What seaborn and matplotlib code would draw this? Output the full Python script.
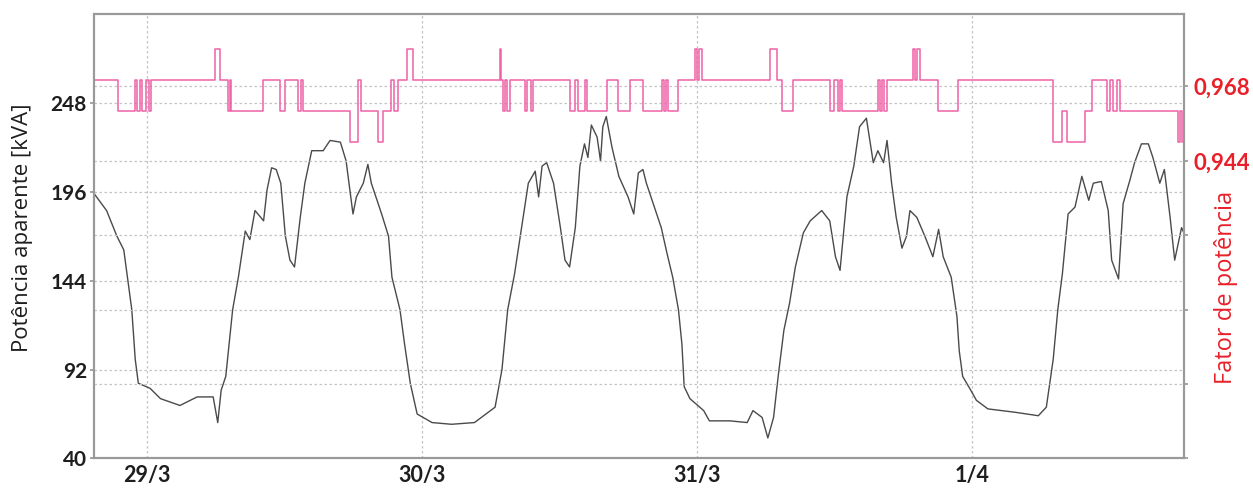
import matplotlib
matplotlib.use("Agg")
import matplotlib.pyplot as plt
import matplotlib.dates as mdates
import matplotlib.ticker as mticker
import pandas as pd
import seaborn as sns

# hours after 29/3 00:00 and apparent power [kVA]
kva_hours = [-4.6, -3.5, -2.6, -2.0, -1.6, -1.3, -1.0, -0.73, 0.3, 1.2, 2.9, 4.4, 5.8, 6.2, 6.5,
             6.9, 7.5, 8.0, 8.6, 9.0, 9.45, 10.2, 10.5, 10.9, 11.3, 11.7, 12.1, 12.5, 12.9, 13.4,
             13.8, 14.4, 15.4, 16.0, 16.9, 17.4, 18.0, 18.3, 18.9, 19.3, 19.6, 20.5, 21.1, 21.4,
             22.1, 22.5, 23.0, 23.6, 24.9, 26.6, 28.6, 29.2, 30.4, 31.0, 31.5, 32.1, 32.6, 33.3,
             33.9, 34.2, 34.5, 34.9, 35.5, 36.1, 36.5, 36.9, 37.4, 37.8, 38.2, 38.5, 38.8, 39.3,
             39.6, 39.8, 40.1, 40.6, 41.2, 42.0, 42.5, 42.9, 43.3, 43.6, 44.2, 44.9, 45.4, 45.9,
             46.4, 46.7, 46.9, 47.4, 48.6, 49.1, 50.9, 52.4, 52.9, 53.7, 54.2, 54.7, 55.1, 55.6,
             56.1, 56.6, 57.3, 57.9, 58.9, 59.6, 60.1, 60.5, 61.1, 61.7, 62.2, 62.8, 63.4, 63.8,
             64.3, 64.6, 65.0, 65.4, 65.9, 66.3, 66.6, 67.2, 67.9, 68.6, 69.1, 69.5, 70.2, 70.7,
             70.9, 71.2, 71.9, 72.4, 73.4, 75.8, 77.8, 78.5, 79.1, 79.5, 79.9, 80.4, 81.0, 81.6,
             82.2, 82.6, 83.3, 83.9, 84.2, 84.8, 85.2, 85.8, 86.2, 86.8, 87.4, 87.8, 88.4, 88.8,
             89.3, 89.7, 90.3, 90.5]
kva_values = [195, 185, 170, 162, 142, 127, 98, 84, 81, 75, 71, 76, 76, 61, 80,
              88, 127, 146, 173, 168, 185, 179, 197, 210, 209, 201, 170, 156, 152, 181,
              201, 220, 220, 226, 225, 214, 183, 193, 201, 212, 201, 183, 170, 146,
              127, 107, 84, 66, 61, 60, 61, 64, 70, 92, 127, 148, 170, 201,
              208, 193, 211, 213, 201, 175, 156, 152, 175, 211, 224, 216, 235, 228,
              214, 234, 240, 222, 205, 193, 183, 207, 209, 201, 189, 175, 160, 146,
              127, 107, 82, 75, 68, 62, 62, 61, 68, 64, 52, 64, 88, 115,
              131, 152, 172, 179, 185, 179, 158, 150, 193, 211, 234, 239, 213, 220,
              213, 226, 201, 181, 163, 170, 185, 181, 170, 158, 174, 158, 146, 123,
              103, 88, 80, 74, 69, 67, 65, 70, 98, 127, 148, 183, 187, 205,
              191, 201, 202, 185, 156, 145, 189, 203, 213, 224, 224, 216, 201, 209,
              181, 156, 175, 172]

# power factor: hour where each level starts (step series)
fp_hours = [-4.60, -2.48, -1.02, -0.85, -0.58, -0.41, -0.06, 0.20, 0.38, 5.96, 6.40, 7.12,
            7.27, 7.36, 10.17, 11.63, 12.07, 13.23, 13.46, 13.64, 17.74, 18.44, 18.70, 20.18,
            20.62, 21.32, 21.58, 21.93, 22.71, 23.24, 30.83, 30.92, 31.09, 31.27, 31.44, 31.70,
            33.01, 33.19, 33.53, 33.71, 36.94, 37.38, 37.64, 38.25, 38.42, 40.17, 41.13, 42.17,
            43.31, 44.97, 45.14, 45.32, 45.49, 46.36, 47.85, 48.02, 48.19, 48.46, 54.39, 55.00,
            55.44, 56.40, 59.63, 59.98, 60.33, 60.50, 60.68, 63.82, 64.00, 64.17, 64.35, 64.61,
            66.88, 67.06, 67.23, 67.49, 69.07, 70.81, 79.08, 79.87, 80.31, 81.88, 82.49, 83.80,
            84.06, 84.33, 84.68, 84.94, 90.00, 90.18, 90.35, 90.52]
fp_values = [0.97, 0.96, 0.97, 0.96, 0.97, 0.96, 0.97, 0.96, 0.97, 0.98, 0.97, 0.96,
             0.97, 0.96, 0.97, 0.96, 0.97, 0.96, 0.97, 0.96, 0.95, 0.97, 0.96, 0.95,
             0.96, 0.97, 0.96, 0.97, 0.98, 0.97, 0.98, 0.97, 0.96, 0.97, 0.96, 0.97,
             0.96, 0.97, 0.96, 0.97, 0.96, 0.97, 0.96, 0.97, 0.96, 0.97, 0.96, 0.97,
             0.96, 0.97, 0.96, 0.97, 0.96, 0.97, 0.98, 0.97, 0.98, 0.97, 0.98, 0.97,
             0.96, 0.97, 0.96, 0.97, 0.96, 0.97, 0.96, 0.97, 0.96, 0.97, 0.96, 0.97,
             0.98, 0.97, 0.98, 0.97, 0.96, 0.97, 0.95, 0.96, 0.95, 0.96, 0.97, 0.96,
             0.97, 0.96, 0.97, 0.96, 0.95, 0.96, 0.95, 0.95]

kva_ticks = [40, 92, 144, 196, 248]
fp_ticks = [0.848, 0.872, 0.896, 0.920, 0.944, 0.968]
fp_ticklabels = ["", "", "", "", "0,944", "0,968"]

BASE = pd.Timestamp("2019-03-29")
DARK = "#1e1e1e"
RED = "#e8202a"
PINK = "#ef62a6"
GRID = "#c4c4c4"

sns.set_theme(style="white")
plt.rcParams["font.family"] = ["Lato", "DejaVu Sans"]

kva = pd.DataFrame({"t": BASE + pd.to_timedelta(kva_hours, unit="h"), "v": kva_values})
fp = pd.DataFrame({"t": BASE + pd.to_timedelta(fp_hours, unit="h"), "v": fp_values})

fig = plt.figure(figsize=(12.53, 4.88), dpi=100)
ax = fig.add_axes([0.075, 0.0605, 0.87, 0.911])
ax2 = ax.twinx()

sns.lineplot(data=kva, x="t", y="v", color="#4a4a4a", lw=1.0, ax=ax)
sns.lineplot(data=fp, x="t", y="v", color=PINK, lw=1.1, drawstyle="steps-post", ax=ax2)

ax.set_xlim(BASE + pd.Timedelta(hours=-4.6), BASE + pd.Timedelta(hours=90.52))
ax.set_ylim(40, 300)
ax2.set_ylim(0.8484, 0.9914)

ax.set_yticks(kva_ticks)
ax.set_yticklabels([str(v) for v in kva_ticks], fontsize=15, fontweight="bold", color=DARK)
ax2.set_yticks(fp_ticks)
ax2.set_yticklabels(fp_ticklabels, fontsize=16, fontweight="bold", color=RED)

ax.xaxis.set_major_locator(mdates.DayLocator())
ax.xaxis.set_major_formatter(mticker.FuncFormatter(
    lambda v, p: f"{mdates.num2date(v).day}/{mdates.num2date(v).month}"))
for lab in ax.get_xticklabels():
    lab.set_fontsize(15.5)
    lab.set_fontweight("bold")
    lab.set_color(DARK)

ax.grid(True, color=GRID, ls=(0, (2, 2)), lw=0.9)
ax2.grid(True, axis="y", color=GRID, ls=(0, (2, 2)), lw=0.9)
ax.tick_params(axis="both", length=3, color="#999999", pad=2)
ax2.tick_params(axis="y", length=3, color="#999999", pad=4)

ax.set_xlabel("")
ax.set_ylabel("Potência aparente [kVA]", fontsize=16, color=DARK, family=["Open Sans", "DejaVu Sans"])
ax.yaxis.set_label_coords(-0.056, 0.519)
ax2.set_xlabel("")
ax2.set_ylabel("Fator de potência", fontsize=17, color=RED, family=["Open Sans", "DejaVu Sans"])
ax2.yaxis.set_label_coords(1.027, 0.384)

for a in (ax, ax2):
    for s in a.spines.values():
        s.set_color("#999999")
        s.set_linewidth(1.5)

fig.savefig("out.png", dpi=100)
